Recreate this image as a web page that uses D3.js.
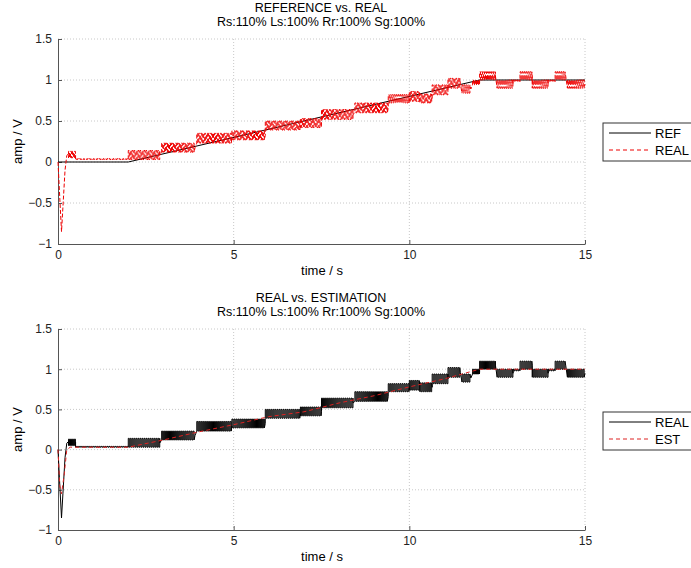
<!DOCTYPE html>
<html>
<head>
<meta charset="utf-8">
<script src="https://cdn.jsdelivr.net/npm/d3@7"></script>
<style>
  body { margin: 0; background: #fff; }
  svg { font-family: "Liberation Sans", Arial, sans-serif; }
  .grid line { stroke: #c8c8c8; stroke-dasharray: 1,2; }
  .axis path, .axis line { stroke: #555; }
  .axis text { fill: #222; font-size: 12px; }
</style>
</head>
<body>
<script>
// x and y ticks
var xTicks = [0, 5, 10, 15];
var yTicks = [-1, -0.5, 0, 0.5, 1, 1.5];

// reference: flat then ramp then hold
var refPoints = [[0, 0], [2, 0], [12, 1], [15, 1]];

// start transient of the real signal [t, v]
var realStart = [[0, 0], [0.04, -0.35], [0.1, -0.85], [0.14, -0.55], [0.2, -0.1], [0.25, 0.08], [0.3, 0.1]];

// chattering steps of the real signal [t0, t1, low, high]
var realSteps = [
  [0.30, 0.50, 0.05, 0.13],
  [0.50, 2.00, 0.03, 0.04],
  [2.00, 2.90, 0.03, 0.14],
  [2.95, 3.90, 0.12, 0.23],
  [3.95, 4.95, 0.23, 0.35],
  [4.95, 5.90, 0.27, 0.38],
  [5.90, 6.90, 0.39, 0.50],
  [6.90, 7.50, 0.42, 0.53],
  [7.50, 8.40, 0.52, 0.64],
  [8.45, 9.40, 0.60, 0.72],
  [9.40, 10.00, 0.72, 0.82],
  [10.00, 10.30, 0.74, 0.86],
  [10.30, 10.65, 0.72, 0.83],
  [10.65, 11.10, 0.82, 0.94],
  [11.10, 11.45, 0.90, 1.02],
  [11.50, 11.75, 0.84, 0.94],
  [11.80, 12.00, 0.94, 1.00],
  [12.00, 12.45, 1.00, 1.10],
  [12.50, 12.95, 0.90, 1.00],
  [12.95, 13.15, 0.98, 1.00],
  [13.15, 13.50, 1.00, 1.10],
  [13.50, 13.95, 0.90, 1.00],
  [13.95, 14.15, 0.98, 1.00],
  [14.15, 14.45, 1.00, 1.10],
  [14.50, 15.00, 0.90, 1.00]
];

// estimation: smooth path through the steps
var estPoints = [[0, 0], [0.05, -0.45], [0.1, -0.55], [0.18, -0.3], [0.25, 0.0], [0.35, 0.03], [2.0, 0.03],
  [3, 0.12], [4, 0.22], [5, 0.31], [6, 0.41], [7, 0.47], [8, 0.58], [9, 0.67], [10, 0.78],
  [11, 0.88], [12, 1.0], [13, 1.0], [14, 1.0], [15, 1.0]];

var subtitle = "Rs:110% Ls:100% Rr:100% Sg:100%";

var width = 691, height = 568;
var svg = d3.select("body").append("svg")
  .attr("width", width)
  .attr("height", height);

// turn steps into a chattering path
function realPath(){
  var pts = realStart.slice();
  var dt = 0.028;
  realSteps.forEach(function(s){
    var up = false;
    for (var t = s[0]; t < s[1]; t += dt){
      pts.push([t, up ? s[3] : s[2]]);
      up = !up;
      pts.push([t, up ? s[3] : s[2]]);
    }
    pts.push([s[1], (s[2] + s[3]) / 2]);
  });
  return pts;
}
var realPts = realPath();

function panel(cfg){
  var x = d3.scaleLinear().domain([0, 15]).range([58, 585]);
  var y = d3.scaleLinear().domain([-1, 1.5]).range([cfg.bottom, cfg.top]);
  var g = svg.append("g");

  // grid
  var grid = g.append("g").attr("class", "grid");
  grid.selectAll(".gx").data(xTicks.slice(1)).enter().append("line")
    .attr("x1", d => x(d)).attr("x2", d => x(d))
    .attr("y1", cfg.top).attr("y2", cfg.bottom);
  grid.selectAll(".gy").data(yTicks.slice(1)).enter().append("line")
    .attr("x1", x(0)).attr("x2", x(15))
    .attr("y1", d => y(d)).attr("y2", d => y(d));

  // axes
  g.append("g").attr("class", "axis")
    .attr("transform", "translate(0," + cfg.bottom + ")")
    .call(d3.axisBottom(x).tickValues(xTicks).tickSize(-4).tickPadding(6).tickSizeOuter(0));
  g.append("g").attr("class", "axis")
    .attr("transform", "translate(" + x(0) + ",0)")
    .call(d3.axisLeft(y).tickValues(yTicks).tickSize(-4).tickPadding(6).tickSizeOuter(0)
      .tickFormat(d3.format("")));

  var line = d3.line().x(d => x(d[0])).y(d => y(d[1]));

  cfg.series.forEach(function(s){
    g.append("path").datum(s.data)
      .attr("d", line)
      .attr("fill", "none")
      .attr("stroke", s.color)
      .attr("stroke-width", s.w || 1)
      .attr("stroke-dasharray", s.dash || null);
  });

  // titles
  g.append("text").attr("x", 321).attr("y", cfg.top - 27)
    .attr("text-anchor", "middle").attr("font-size", 12.5).text(cfg.title);
  g.append("text").attr("x", 321).attr("y", cfg.top - 13)
    .attr("text-anchor", "middle").attr("font-size", 12.5).text(subtitle);
  g.append("text").attr("x", 322).attr("y", cfg.bottom + 31)
    .attr("text-anchor", "middle").attr("font-size", 13).text("time / s");
  g.append("text")
    .attr("transform", "translate(22," + (cfg.top + cfg.bottom) / 2 + ") rotate(-90)")
    .attr("text-anchor", "middle").attr("font-size", 13).text("amp / V");

  // legend
  var lg = g.append("g").attr("transform", "translate(603," + cfg.legendY + ")");
  lg.append("rect").attr("width", 100).attr("height", 38)
    .attr("fill", "#fff").attr("stroke", "#333");
  cfg.series.forEach(function(s, i){
    var ly = 10 + i * 17;
    lg.append("line").attr("x1", 6).attr("x2", 48).attr("y1", ly).attr("y2", ly)
      .attr("stroke", s.color).attr("stroke-dasharray", s.dash ? "4,3" : null);
    lg.append("text").attr("x", 52).attr("y", ly + 5).attr("font-size", 13).text(s.name);
  });
}

panel({
  top: 39, bottom: 244, legendY: 123,
  title: "REFERENCE vs. REAL",
  series: [
    {name: "REF", data: refPoints, color: "#000"},
    {name: "REAL", data: realPts, color: "#ee0000", dash: "4,2"}
  ]
});

panel({
  top: 329, bottom: 530, legendY: 412,
  title: "REAL vs. ESTIMATION",
  series: [
    {name: "REAL", data: realPts, color: "#000"},
    {name: "EST", data: estPoints, color: "#dd2222", dash: "4,3"}
  ]
});
</script>
</body>
</html>
